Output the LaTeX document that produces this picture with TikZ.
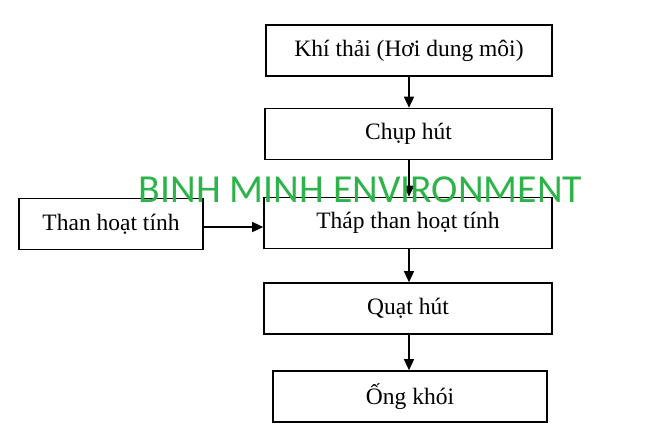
\documentclass[tikz,border=0pt]{standalone}
\usepackage{fontspec}
\setmainfont{Liberation Serif}
\newfontfamily\wmfont{Carlito}
\usetikzlibrary{positioning}
\usetikzlibrary{arrows.meta}
\definecolor{wmgreen}{RGB}{45,179,74}

\begin{document}
\begin{tikzpicture}[x=1pt, y=-1pt, >={Triangle[length=11pt,width=10pt]},
	box/.style={draw,line width=1.6pt,minimum height=51pt,inner sep=0pt,font=\fontsize{23.5}{26}\selectfont},
	flow/.style={->,line width=1.3pt}]
	\useasboundingbox (0,0) rectangle (670,431);
	\node[box,minimum width=286pt] (khi) at (409, 50.5) {Khí thải (Hơi dung môi)};
	\node[box,minimum width=287pt] (chup) at (408.5, 134) {Chụp hút};
	\node[box,minimum width=288pt] (thap) at (408, 223) {Tháp than hoạt tính};
	\node[box,minimum width=184pt] (than) at (111, 224) {Than hoạt tính};
	\node[box,minimum width=288pt] (quat) at (408, 308.5) {Quạt hút};
	\node[box,minimum width=274pt] (ong) at (410, 396.5) {Ống khói};
	\draw[flow] (khi.south -| 409,0) to (chup.north -| 409,0);
	\draw[flow] (chup.south -| 409,0) to (thap.north -| 409,0);
	\draw[flow] (thap.south -| 409,0) to (quat.north -| 409,0);
	\draw[flow] (quat.south -| 409,0) to (ong.north -| 409,0);
	\draw[flow] (than.east |- 0,227) to (thap.west |- 0,227);
	\node[text=wmgreen,font=\wmfont\fontsize{39.7}{40}\selectfont,inner sep=0pt,anchor=base] (wm) at (360.5, 202) {BINH MINH ENVIRONMENT};
\end{tikzpicture}
\end{document}
